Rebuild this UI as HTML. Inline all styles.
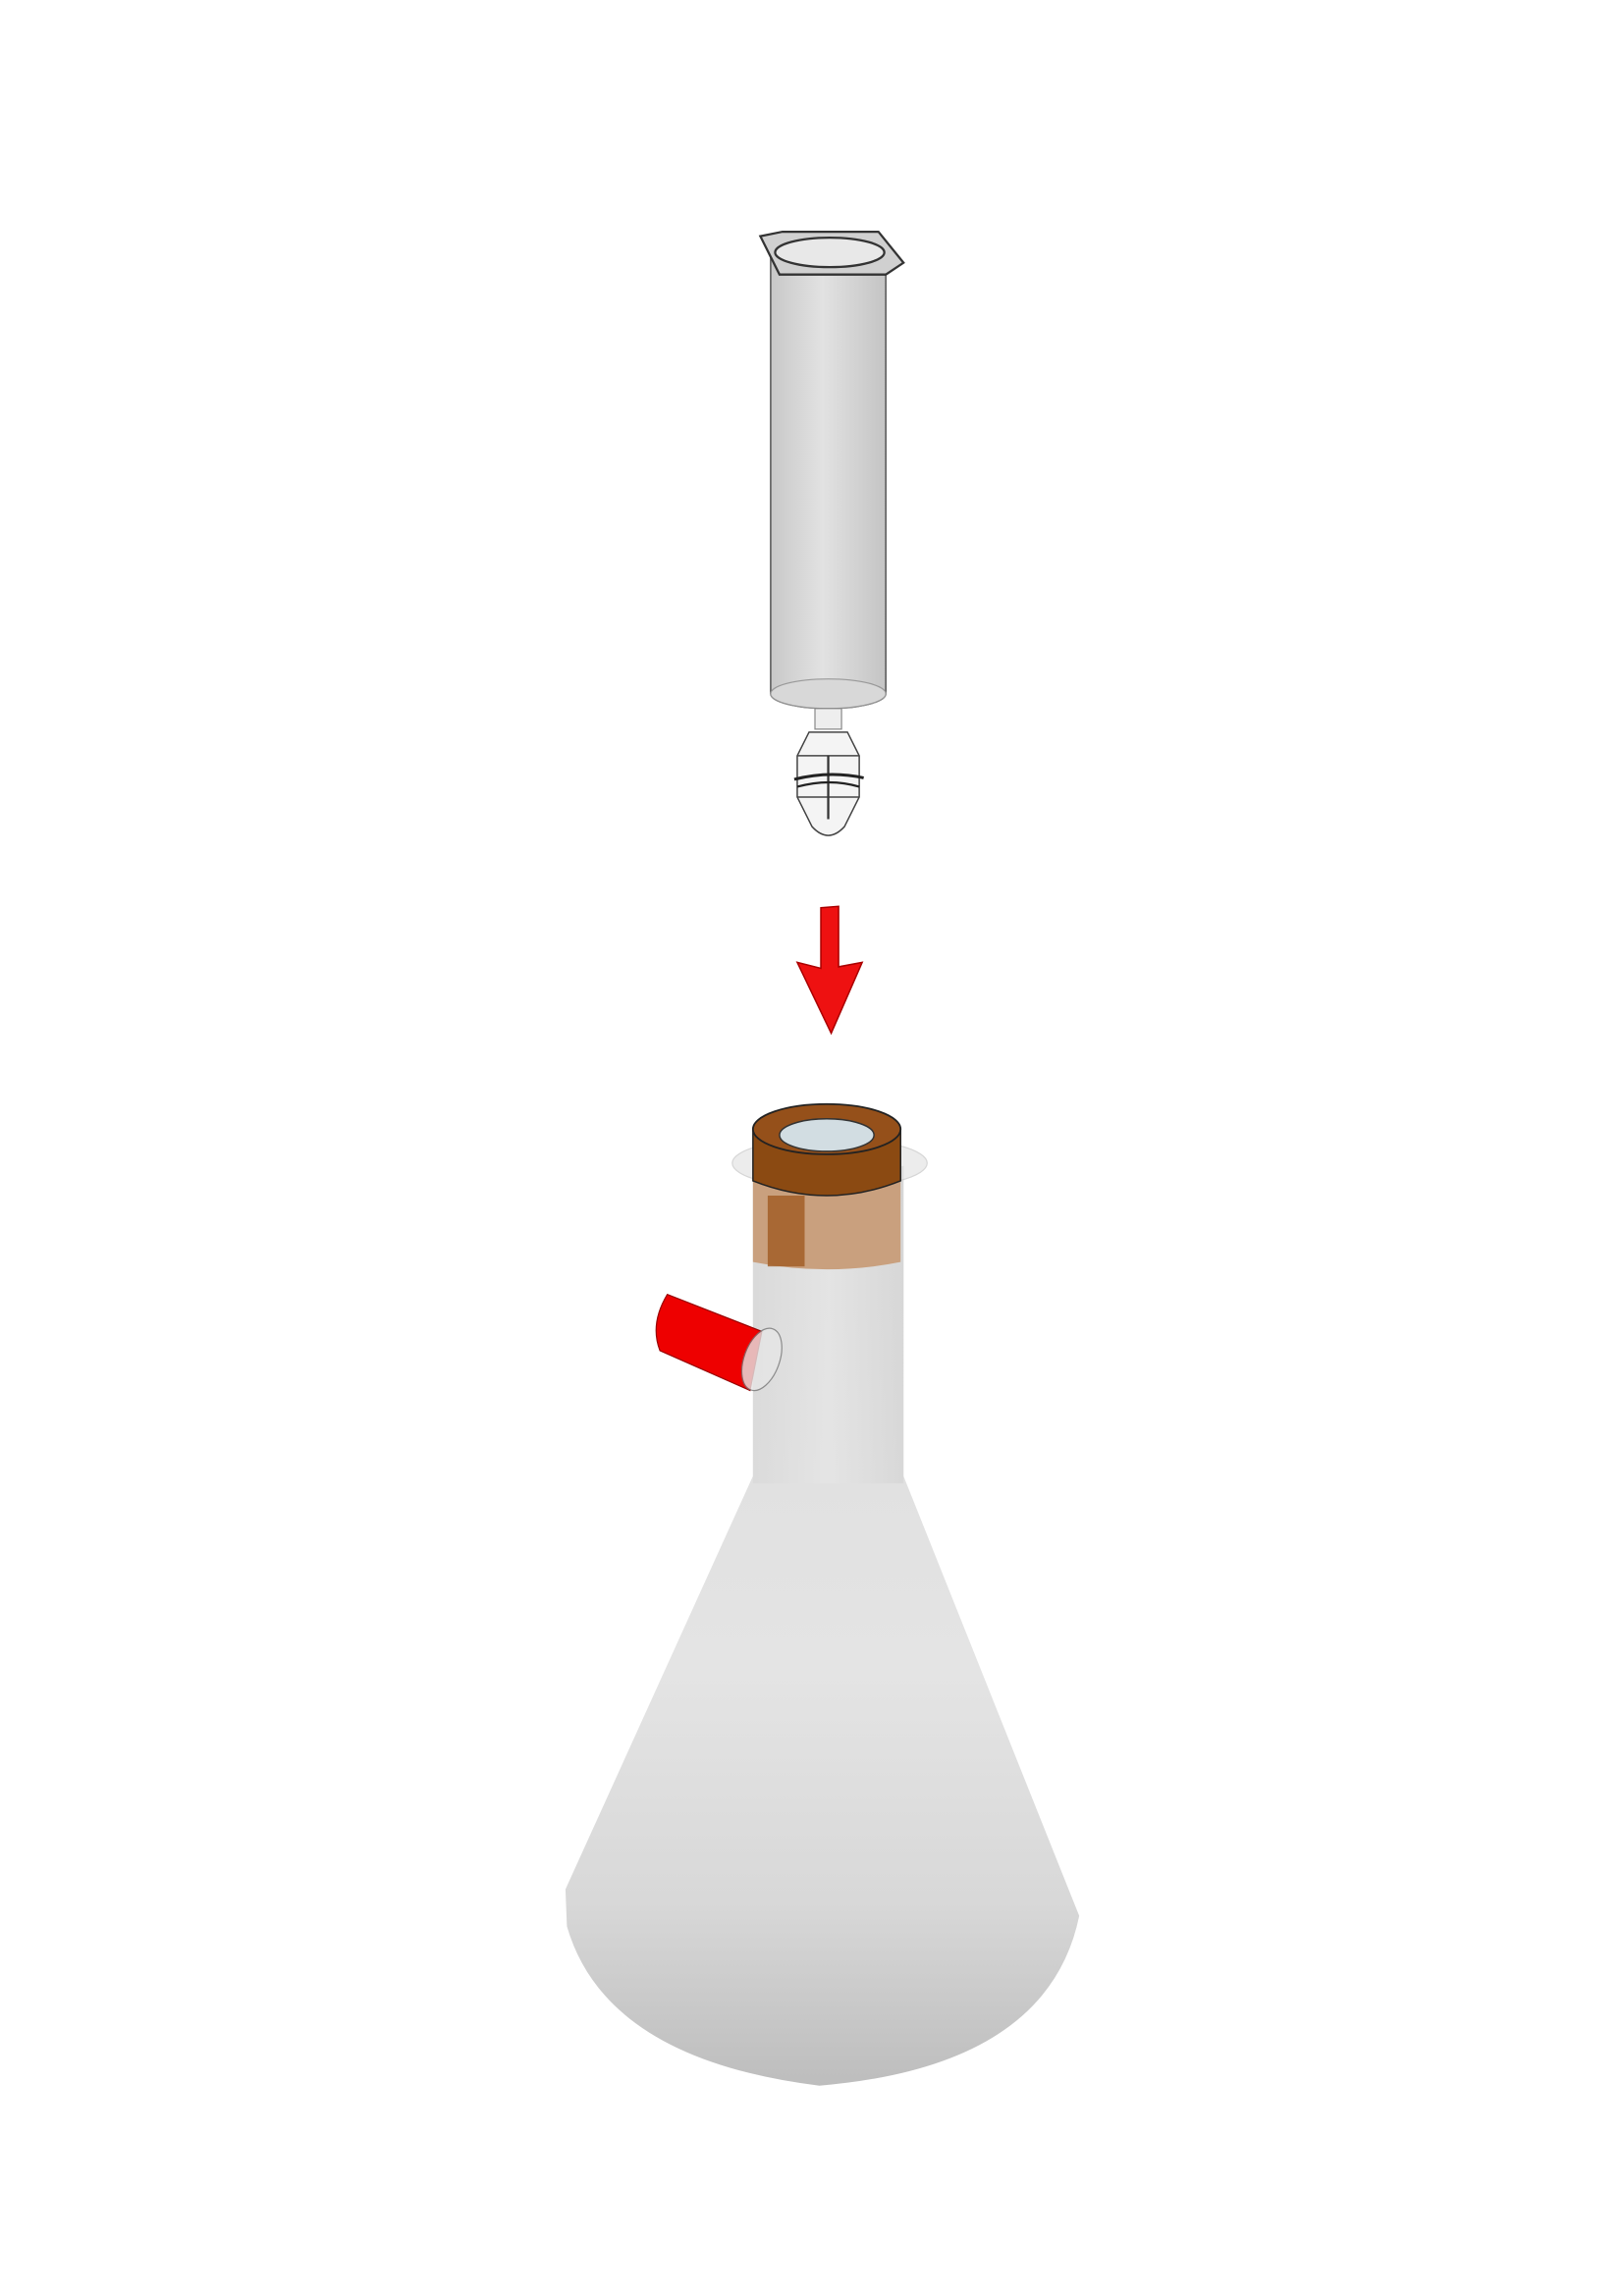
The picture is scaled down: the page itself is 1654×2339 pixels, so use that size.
<!DOCTYPE html>
<html><head><meta charset="utf-8"><style>
html,body{margin:0;padding:0;background:#fff;}
svg{display:block;}
</style></head><body>
<svg width="1654" height="2339" viewBox="0 0 1100 1555.5" preserveAspectRatio="none" xmlns="http://www.w3.org/2000/svg">
<defs>
<linearGradient id="cyl" x1="0" x2="1" y1="0" y2="0">
<stop offset="0" stop-color="#c8c8c8"/><stop offset="0.45" stop-color="#e2e2e2"/><stop offset="1" stop-color="#c4c4c4"/>
</linearGradient>
<linearGradient id="flask" x1="0" x2="0" y1="0" y2="1">
<stop offset="0" stop-color="#dcdcdc"/><stop offset="0.55" stop-color="#e4e4e4"/><stop offset="0.8" stop-color="#d8d8d8"/><stop offset="1" stop-color="#bdbdbd"/>
</linearGradient>
<linearGradient id="neck" x1="0" x2="1" y1="0" y2="0">
<stop offset="0" stop-color="#d8d8d8"/><stop offset="0.5" stop-color="#e6e6e6"/><stop offset="1" stop-color="#d4d4d4"/>
</linearGradient>
</defs>
<rect width="1100" height="1555.5" fill="#fff"/>
<g>
<path d="M522 172 L522 470 A39 10 0 0 0 600 470 L600 172 Z" fill="url(#cyl)" stroke="#555" stroke-width="1"/>
<ellipse cx="561" cy="470" rx="39" ry="10" fill="#d8d8d8" stroke="#999" stroke-width="0.8"/>
<path d="M515 160 L530 157 L595 157 L612 178 L600 186 L528 186 Z" fill="#d0d0d0" stroke="#333" stroke-width="1.5"/>
<ellipse cx="562" cy="171" rx="37" ry="10" fill="#e8e8e8" stroke="#333" stroke-width="1.5"/>
</g>
<g>
<rect x="552" y="480" width="18" height="14" fill="#eee" stroke="#888" stroke-width="0.8"/>
<path d="M548 496 L574 496 L582 512 L582 540 L572 560 Q561 572 550 560 L540 540 L540 512 Z" fill="#f4f4f4" stroke="#444" stroke-width="1"/>
<line x1="540" y1="512" x2="582" y2="512" stroke="#444" stroke-width="1"/>
<line x1="540" y1="540" x2="582" y2="540" stroke="#444" stroke-width="1"/>
<line x1="561" y1="512" x2="561" y2="555" stroke="#333" stroke-width="1.5"/>
<path d="M538 528 Q562 522 585 527" fill="none" stroke="#222" stroke-width="2"/>
<path d="M540 533 Q562 527 582 533" fill="none" stroke="#222" stroke-width="1.5"/>
</g>
<path d="M556 615 L568 614 L568 655 L584 652 L563 700 L540 652 L556 656 Z" fill="#ee1111" stroke="#a00" stroke-width="1"/>
<g>
<path d="M510 790 L510 1000 L383 1280 L384 1305 Q410 1395 555 1413 Q710 1400 731 1298 L612 1000 L612 790 Z" fill="url(#flask)"/>
<rect x="510" y="790" width="102" height="215" fill="url(#neck)" opacity="0.7"/>
<ellipse cx="562" cy="788" rx="66" ry="17" fill="#e0e0e0" opacity="0.6" stroke="#bbb" stroke-width="0.8"/>
</g>
<g>
<path d="M510 800 L510 855 Q560 865 610 855 L610 800 Z" fill="#c9a07e"/>
<rect x="520" y="810" width="25" height="48" fill="#a05a22" opacity="0.8"/>
<path d="M510 765 L510 800 Q560 820 610 800 L610 765 Z" fill="#8b4a12" stroke="#222" stroke-width="1"/>
<ellipse cx="560" cy="765" rx="50" ry="17" fill="#95501a" stroke="#222" stroke-width="1.2"/>
<ellipse cx="560" cy="769" rx="32" ry="11" fill="#d2dde2" stroke="#333" stroke-width="1"/>
</g>
<g>
<path d="M452 877 L516 902 L508 942 L447 915 Q440 897 452 877 Z" fill="#ee0000" stroke="#900" stroke-width="0.8"/>
<ellipse cx="516" cy="921" rx="12" ry="22" transform="rotate(20 516 921)" fill="#e6e6e6" opacity="0.8" stroke="#777" stroke-width="0.8"/>
</g>
</svg>
</body></html>
